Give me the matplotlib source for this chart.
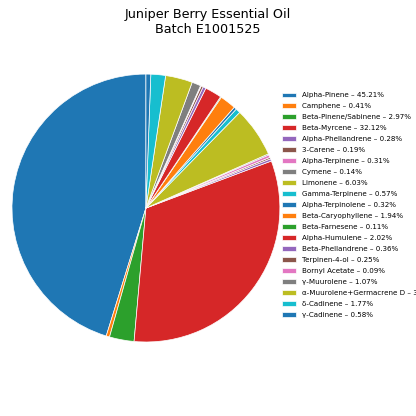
import matplotlib
matplotlib.use("Agg")
import matplotlib.pyplot as plt

# Composición del lote (porcentajes)
compounds = [
    "Alpha-Pinene", "Camphene", "Beta-Pinene/Sabinene", "Beta-Myrcene",
    "Alpha-Phellandrene", "3-Carene", "Alpha-Terpinene", "Cymene",
    "Limonene", "Gamma-Terpinene", "Alpha-Terpinolene", "Beta-Caryophyllene",
    "Beta-Farnesene", "Alpha-Humulene", "Beta-Phellandrene", "Terpinen-4-ol",
    "Bornyl Acetate", "γ-Muurolene", "α-Muurolene+Germacrene D",
    "δ-Cadinene", "γ-Cadinene",
]
percents = [
    45.21, 0.41, 2.97, 32.12, 0.28, 0.19, 0.31, 0.14, 6.03, 0.57, 0.32,
    1.94, 0.11, 2.02, 0.36, 0.25, 0.09, 1.07, 3.26, 1.77, 0.58,
]

labels = [f"{c} – {p:.2f}%" for c, p in zip(compounds, percents)]

fig = plt.figure(figsize=(4.16, 4.16), dpi=100)
# el pie deja un margen de 1.25 radios: ejes más grandes para radio ~134 px
ax = fig.add_axes([-0.0517, 0.0974, 0.805, 0.805])
wedges, _ = ax.pie(percents, startangle=90, counterclock=True,
                   wedgeprops=dict(edgecolor="white", linewidth=0.5))
ax.set_aspect("equal")

fig.suptitle("Juniper Berry Essential Oil\nBatch E1001525", fontsize=9.2, y=0.980)

fig.legend(wedges, labels, loc="upper left", bbox_to_anchor=(0.663, 0.793),
           frameon=False, fontsize=5.1, labelspacing=0.7,
           handlelength=2.0, handletextpad=0.8)

fig.savefig("out.png", dpi=100, facecolor="white")
